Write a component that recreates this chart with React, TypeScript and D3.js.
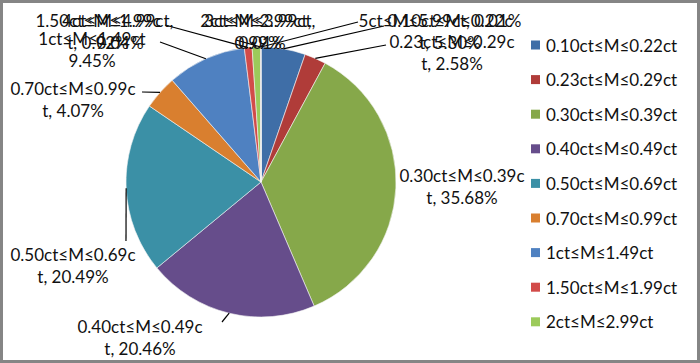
import React, { useMemo } from "react";
import * as d3 from "d3";

const WIDTH = 700;
const HEIGHT = 363;
const CX = 261;
const CY = 182;
const RADIUS = 135;

const categories = [
  "0.10ct≤M≤0.22ct",
  "0.23ct≤M≤0.29ct",
  "0.30ct≤M≤0.39ct",
  "0.40ct≤M≤0.49ct",
  "0.50ct≤M≤0.69ct",
  "0.70ct≤M≤0.99ct",
  "1ct≤M≤1.49ct",
  "1.50ct≤M≤1.99ct",
  "2ct≤M≤2.99ct",
  "3ct≤M≤3.99ct",
  "4ct≤M≤4.99ct",
  "5ct≤M≤5.99ct",
];
const shares = [5.3, 2.58, 35.68, 20.46, 20.49, 4.07, 9.45, 0.92, 0.99, 0.01, 0.04, 0.01];
const colors = [
  "#3f6ea7", "#b03c39", "#86a84a", "#664d8b", "#3b90a6", "#d97f2f",
  "#4f81c1", "#d24b49", "#9cca5a", "#2e5b8e", "#8d2f2c", "#6f8a3a",
];
// only the first nine entries fit into the legend
const LEGEND_COUNT = 9;

// hand placed label boxes (Excel layout), x/y = centre of first line
const labelLayout = [
  { x: 450, y: 20, split: 14, ax: 384, ay: 26 },
  { x: 452, y: 41, split: 14, ax: 386, ay: 45 },
  { x: 462, y: 175, split: 14, ax: null, ay: null },
  { x: 140, y: 326, split: 14, ax: 222, ay: 322 },
  { x: 73, y: 254, split: 14, ax: 126, ay: 241 },
  { x: 73, y: 88, split: 14, ax: 142, ay: 92 },
  { x: 92, y: 38, split: 12, ax: 160, ay: 42 },
  { x: 98, y: 20, split: 14, ax: 165, ay: 25 },
  { x: 258, y: 20, split: 14, ax: 252, ay: 42 },
  { x: 262, y: 20, split: 14, ax: 266, ay: 42 },
  { x: 120, y: 20, split: 14, ax: 236, ay: 40 },
  { x: 440, y: 20, split: 99, ax: 358, ay: 22 },
];

const FONT = "Lato, 'Open Sans', sans-serif";
const FONT_SIZE = 17;

export default function App() {
  const arcs = useMemo(() => {
    const pie = d3.pie<number>().sort(null).value((d) => d);
    return pie(shares);
  }, []);

  const arcGen = d3.arc<d3.PieArcDatum<number>>().innerRadius(0).outerRadius(RADIUS);
  const edgeGen = d3.arc<d3.PieArcDatum<number>>().innerRadius(RADIUS).outerRadius(RADIUS);

  return (
    <svg
      width={WIDTH}
      height={HEIGHT}
      style={{ position: "absolute", left: 0, top: 0, fontFamily: FONT }}
    >
      <rect x={0} y={0} width={WIDTH} height={HEIGHT} fill="#fff" />
      <rect x={1.5} y={1.5} width={WIDTH - 3} height={HEIGHT - 3} fill="none" stroke="#858585" strokeWidth={3} />

      <g transform={`translate(${CX},${CY})`}>
        {arcs.map((a, i) => (
          <path key={i} d={arcGen(a) || ""} fill={colors[i]} stroke="#f4f4f4" strokeWidth={0.6} />
        ))}
      </g>

      {/* leader lines */}
      {arcs.map((a, i) => {
        const l = labelLayout[i];
        if (l.ax === null) return null;
        const [ex, ey] = edgeGen.centroid(a);
        return (
          <line
            key={i}
            x1={CX + ex}
            y1={CY + ey}
            x2={l.ax}
            y2={l.ay}
            stroke="#000"
            strokeWidth={1.2}
          />
        );
      })}

      {/* data labels */}
      {categories.map((c, i) => {
        const l = labelLayout[i];
        const full = `${c}, ${shares[i].toFixed(2)}%`;
        const lines = [full.slice(0, l.split), full.slice(l.split).replace(/^,\s*/, "")].filter(
          (s) => s.trim().length > 0
        );
        return (
          <text key={i} x={l.x} y={l.y} textAnchor="middle" fontSize={FONT_SIZE} fill="#111">
            {lines.map((s, j) => (
              <tspan key={j} x={l.x} y={l.y + j * 22} dominantBaseline="central">
                {s}
              </tspan>
            ))}
          </text>
        );
      })}

      {/* legend */}
      <g transform="translate(531,45)">
        {categories.slice(0, LEGEND_COUNT).map((c, i) => (
          <g key={c} transform={`translate(0,${i * 34.6})`}>
            <rect x={0} y={-4.5} width={9} height={9} fill={colors[i]} />
            <text x={15} y={0} dominantBaseline="central" fontSize={FONT_SIZE} fill="#111">
              {c}
            </text>
          </g>
        ))}
      </g>
    </svg>
  );
}
